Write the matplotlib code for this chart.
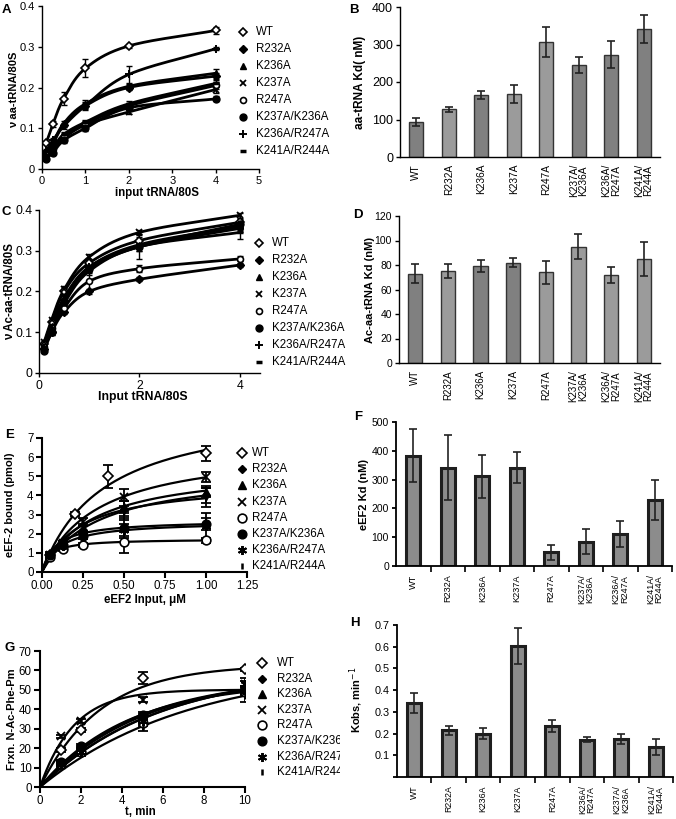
import numpy as np
import matplotlib.pyplot as plt
from matplotlib.lines import Line2D
from matplotlib.ticker import FuncFormatter
from matplotlib.transforms import Bbox

plt.rcParams['font.family'] = ['Liberation Sans', 'DejaVu Sans']

W, H = 676, 819

mutants = ["WT", "R232A", "K236A", "K237A", "R247A",
           "K237A/K236A", "K236A/R247A", "K241A/R244A"]

# ---- panel A : aa-tRNA binding (rows follow `mutants`)
a_x = [0.1, 0.25, 0.5, 1, 2, 4]
a_y = [
    [0.065, 0.11, 0.173, 0.247, 0.302, 0.34],
    [0.04, 0.062, 0.108, 0.155, 0.2, 0.228],
    [0.042, 0.064, 0.112, 0.16, 0.203, 0.235],
    [0.03, 0.045, 0.075, 0.108, 0.14, 0.195],
    [0.035, 0.05, 0.08, 0.11, 0.155, 0.205],
    [0.025, 0.04, 0.07, 0.1, 0.15, 0.172],
    [0.045, 0.07, 0.105, 0.155, 0.232, 0.295],
    [0.035, 0.052, 0.085, 0.115, 0.16, 0.21],
]
a_err = [
    [0.004, 0.008, 0.015, 0.022, 0.005, 0.008],
    [0.003, 0.004, 0.006, 0.008, 0.006, 0.008],
    [0.003, 0.004, 0.006, 0.01, 0.006, 0.01],
    [0.003, 0.004, 0.005, 0.006, 0.006, 0.008],
    [0.003, 0.004, 0.005, 0.006, 0.006, 0.008],
    [0.003, 0.004, 0.005, 0.006, 0.006, 0.006],
    [0.003, 0.005, 0.006, 0.01, 0.02, 0.004],
    [0.003, 0.004, 0.005, 0.006, 0.006, 0.008],
]

# ---- panel B : aa-tRNA Kd (nM)
b_vals = [93, 127, 165, 168, 308, 246, 273, 342]
b_err = [10, 6, 10, 24, 40, 22, 36, 38]

# ---- panel C : Ac-aa-tRNA binding
c_x = [0.1, 0.25, 0.5, 1, 2, 4]
c_y = [
    [0.07, 0.125, 0.2, 0.27, 0.325, 0.37],
    [0.06, 0.1, 0.15, 0.2, 0.23, 0.265],
    [0.065, 0.115, 0.185, 0.26, 0.315, 0.36],
    [0.075, 0.13, 0.205, 0.285, 0.345, 0.387],
    [0.065, 0.11, 0.16, 0.225, 0.256, 0.28],
    [0.055, 0.1, 0.175, 0.255, 0.31, 0.365],
    [0.06, 0.11, 0.18, 0.26, 0.31, 0.355],
    [0.065, 0.1, 0.17, 0.25, 0.31, 0.345],
]
c_err = [
    [0.004, 0.006, 0.008, 0.01, 0.008, 0.008],
    [0.004, 0.005, 0.006, 0.006, 0.005, 0.006],
    [0.004, 0.006, 0.01, 0.01, 0.01, 0.01],
    [0.004, 0.006, 0.008, 0.008, 0.006, 0.006],
    [0.004, 0.006, 0.01, 0.025, 0.008, 0.006],
    [0.004, 0.006, 0.008, 0.01, 0.01, 0.01],
    [0.004, 0.006, 0.008, 0.01, 0.03, 0.01],
    [0.004, 0.006, 0.008, 0.01, 0.01, 0.015],
]

# ---- panel D : Ac-aa-tRNA Kd (nM)
d_vals = [73, 75, 79, 82, 74, 95, 72, 85]
d_err = [8, 6, 5, 4, 9.5, 10, 6.5, 14]

# ---- panel E : eEF2 binding, points + hyperbolic fit (Bmax, Kd in uM)
e_x = [0.05, 0.125, 0.25, 0.5, 1.0]
e_wt_x = [0.05, 0.2, 0.4, 1.0]
e_y = [
    [0.9, 3.05, 5.0, 6.2],
    [0.85, 1.4, 2.2, 3.3, 4.0],
    [0.9, 1.5, 2.3, 3.4, 4.2],
    [0.9, 1.5, 2.6, 3.9, 4.95],
    [0.8, 1.2, 1.4, 1.55, 1.65],
    [0.9, 1.4, 1.9, 2.3, 2.5],
    [0.95, 1.35, 1.9, 2.2, 2.4],
    [0.85, 1.4, 2.2, 3.2, 3.9],
]
e_err = [
    [0.1, 0.1, 0.6, 0.4],
    [0.1, 0.1, 0.2, 0.4, 0.4],
    [0.1, 0.1, 0.2, 0.3, 0.3],
    [0.1, 0.1, 0.2, 0.45, 0.25],
    [0.1, 0.1, 0.1, 0.55, 0.15],
    [0.1, 0.1, 0.15, 0.5, 0.3],
    [0.1, 0.1, 0.15, 0.3, 0.7],
    [0.1, 0.1, 0.2, 0.5, 0.5],
]
e_bmax = [8.8, 5.36, 5.57, 6.63, 1.73, 2.71, 2.66, 4.74]
e_kd = [0.38, 0.34, 0.31, 0.34, 0.05, 0.085, 0.11, 0.23]

# ---- panel F : eEF2 Kd (nM)
f_vals = [383, 342, 312, 342, 48, 85, 110, 230]
f_err = [93, 112, 75, 55, 26, 42, 45, 70]

# ---- panel G : peptidyl transfer time course, points + single exp fit
g_x = [1, 2, 5, 10]
g_y = [
    [19, 29.5, 56, 60.5],
    [13, 20, 36, 50],
    [12, 19, 35, 50],
    [26, 34, 45, 53],
    [12, 18, 33, 49],
    [13, 21, 37, 50],
    [12, 18, 34, 53],
    [11, 17, 31, 47],
]
g_err = [
    [1, 1, 3, 1],
    [1, 1, 1.5, 2],
    [1, 1, 1.5, 2],
    [1, 1, 1.5, 1.5],
    [1, 1, 1.5, 2],
    [1, 1, 1.5, 2],
    [1, 1, 1.5, 3],
    [1, 1, 2, 3],
]
g_amp = [63, 56.6, 57.8, 50.1, 54.1, 60.5, 60.9, 62.8]
g_k = [0.34, 0.215, 0.2, 0.605, 0.235, 0.175, 0.172, 0.138]

# ---- panel H : kobs (min-1), its own bar order
h_labels = ["WT", "R232A", "K236A", "K237A", "R247A",
            "K236A/R247A", "K237A/K236A", "K241A/R244A"]
h_vals = [0.34, 0.215, 0.2, 0.605, 0.235, 0.172, 0.175, 0.138]
h_err = [0.045, 0.02, 0.027, 0.083, 0.027, 0.013, 0.025, 0.035]


# =========================================================
# helpers
# =========================================================

DARK, LIGHT = "#808080", "#9b9b9b"

small_style = [
    dict(marker="D", ms=3.8, mfc="white", mec="black", mew=1.2),
    dict(marker="D", ms=3.6, mfc="black", mec="black"),
    dict(marker="^", ms=4.5, mfc="black", mec="black"),
    dict(marker="x", ms=4.2, mec="black", mew=1.3),
    dict(marker="o", ms=4.3, mfc="white", mec="black", mew=1.2),
    dict(marker="o", ms=5, mfc="black", mec="black"),
    dict(marker="+", ms=5.5, mec="black", mew=1.4),
    dict(marker="_", ms=4, mec="black", mew=2.5),
]
big_style = [
    dict(marker="D", ms=5, mfc="white", mec="black", mew=1.2),
    dict(marker="D", ms=4.5, mfc="black", mec="black"),
    dict(marker="^", ms=6, mfc="black", mec="black"),
    dict(marker="x", ms=6, mec="black", mew=1.3),
    dict(marker="o", ms=6.3, mfc="white", mec="black", mew=1.2),
    dict(marker="o", ms=6.3, mfc="black", mec="black"),
    dict(marker=(6, 2, 0), ms=6.5, mec="black", mew=1.4),
    dict(marker="|", ms=5, mec="black", mew=1.8),
]


def make_ax(x0, y0, x1, y1, fs, lw=1.0):
    ax = fig.add_axes([x0 / W, 1 - y1 / H, (x1 - x0) / W, (y1 - y0) / H])
    ax.spines["top"].set_visible(False)
    ax.spines["right"].set_visible(False)
    for s in ("left", "bottom"):
        ax.spines[s].set_linewidth(lw)
    ax.tick_params(direction="out", length=3, width=lw, labelsize=fs, pad=2)
    return ax


def ftext(px, py, s, **kw):
    kw.setdefault("fontsize", 8.5)
    return fig.text(px / W, 1 - py / H, s, **kw)


def ylab(px, py, s, fs=8.3):
    ftext(px, py, s, rotation=90, ha="center", va="center",
          fontweight="bold", fontsize=fs)


def xlab(px, py, s, fs=8.5):
    ftext(px, py, s, ha="center", va="center", fontweight="bold", fontsize=fs)


def legend(styles, mx, my0, dy, tx, clip_x=None):
    for i, name in enumerate(mutants):
        y = 1 - (my0 + i * dy) / H
        fig.add_artist(Line2D([mx / W], [y], transform=fig.transFigure,
                              linestyle="none", **styles[i]))
        t = fig.text(tx / W, y, name, va="center", ha="left", fontsize=8.3)
        if clip_x is not None:
            t.set_clip_box(Bbox.from_extents(0, 0, clip_x, H))
            t.set_clip_on(True)


def smooth(xs, ys, n=30):
    # Catmull-Rom style smooth line through the points (like spreadsheet curves)
    xs = np.asarray(xs, float)
    ys = np.asarray(ys, float)
    px = np.concatenate([[2 * xs[0] - xs[1]], xs, [2 * xs[-1] - xs[-2]]])
    py = np.concatenate([[2 * ys[0] - ys[1]], ys, [2 * ys[-1] - ys[-2]]])
    t = np.linspace(0, 1, n)
    ox, oy = [], []
    for i in range(1, len(px) - 2):
        for p, out in ((px, ox), (py, oy)):
            p0, p1, p2, p3 = p[i - 1], p[i], p[i + 1], p[i + 2]
            out.extend(0.5 * (2 * p1 + (-p0 + p2) * t
                              + (2 * p0 - 5 * p1 + 4 * p2 - p3) * t ** 2
                              + (-p0 + 3 * p1 - 3 * p2 + p3) * t ** 3))
    return ox, oy


def bar_panel(ax, labels, vals, errs, colors, width, edge_lw, label_fs, prism=False):
    pos = np.arange(len(vals))
    ax.bar(pos, vals, width=width, color=colors,
           edgecolor="#1e1e1e" if prism else "#333333", linewidth=edge_lw, zorder=2)
    ax.errorbar(pos, vals, yerr=errs, fmt="none", ecolor="#222222",
                elinewidth=1.2, capsize=3, capthick=1.2, zorder=3)
    ax.set_xlim(-0.5, len(vals) - 0.5)
    ax.set_xticks(pos)
    ax.set_xticklabels([l.replace("/", "/\n") for l in labels],
                       rotation=90, fontsize=label_fs, linespacing=0.95)
    if prism:
        ax.set_xticks(list(pos[:-1] + 0.5) + [len(vals) - 0.5], minor=True)
        ax.tick_params(axis="x", which="major", length=0, pad=6)
        ax.tick_params(axis="x", which="minor", length=4, width=1.2)
    else:
        ax.tick_params(axis="x", length=0, pad=5)


num_fmt = FuncFormatter(lambda v, p: f"{v:g}")

fig = plt.figure(figsize=(W / 100, H / 100), dpi=100)

# =========================================================
# A
# =========================================================
ax = make_ax(42, 6, 259, 169, 8)
for i in range(len(mutants)):
    sx, sy = smooth(a_x, a_y[i])
    ax.plot(sx, sy, color="black", lw=2.0, zorder=2, clip_on=False)
    ax.errorbar(a_x, a_y[i], yerr=a_err[i], fmt="none", ecolor="black",
                elinewidth=1.0, capsize=2.5, zorder=3)
    ax.plot(a_x, a_y[i], linestyle="none", zorder=4, **small_style[i])
ax.set_xlim(0, 5)
ax.set_ylim(0, 0.4)
ax.set_xticks(range(6))
ax.set_yticks([0, 0.1, 0.2, 0.3, 0.4])
ax.yaxis.set_major_formatter(num_fmt)
legend(small_style, 243, 32, 17, 256)
ylab(14, 90, "ν aa-tRNA/80S", 8)
xlab(157, 193, "input tRNA/80S", 8.3)
ftext(6, 10, "A", fontweight="bold", fontsize=9.5, ha="center", va="center")

# =========================================================
# B
# =========================================================
ax = make_ax(400, 7, 660, 157, 9)
bar_panel(ax, mutants, b_vals, b_err,
          [DARK, LIGHT, DARK, LIGHT, LIGHT, DARK, DARK, DARK], 0.44, 1.0, 7.3)
ax.set_ylim(0, 400)
ax.set_yticks(range(0, 401, 100))
ylab(360, 82, "aa-tRNA Kd( nM)", 8.5)
ftext(354, 10, "B", fontweight="bold", fontsize=9.5, ha="center", va="center")

# =========================================================
# C
# =========================================================
ax = make_ax(39, 210, 260, 373, 8.8)
for i in range(len(mutants)):
    sx, sy = smooth(c_x, c_y[i])
    ax.plot(sx, sy, color="black", lw=2.0, zorder=2, clip_on=False)
    ax.errorbar(c_x, c_y[i], yerr=c_err[i], fmt="none", ecolor="black",
                elinewidth=1.0, capsize=2.5, zorder=3)
    ax.plot(c_x, c_y[i], linestyle="none", zorder=4, **small_style[i])
ax.set_xlim(0, 4.4)
ax.set_ylim(0, 0.4)
ax.set_xticks([0, 2, 4])
ax.set_yticks([0, 0.1, 0.2, 0.3, 0.4])
ax.yaxis.set_major_formatter(num_fmt)
legend(small_style, 259, 243, 17, 272)
ylab(10, 292, "ν Ac-aa-tRNA/80S", 8.3)
xlab(143, 397, "Input tRNA/80S", 8.8)
ftext(6, 212, "C", fontweight="bold", fontsize=9.5, ha="center", va="center")

# =========================================================
# D
# =========================================================
ax = make_ax(399, 216, 660, 363, 7.5)
bar_panel(ax, mutants, d_vals, d_err,
          [DARK, LIGHT, DARK, DARK, LIGHT, LIGHT, LIGHT, LIGHT], 0.44, 1.0, 7)
ax.set_ylim(0, 120)
ax.set_yticks(range(0, 121, 20))
ylab(370, 290, "Ac-aa-tRNA Kd (nM)", 8)
ftext(358, 215, "D", fontweight="bold", fontsize=9.5, ha="center", va="center")

# =========================================================
# E
# =========================================================
ax = make_ax(42, 438, 247, 572, 8.3, lw=1.5)
ax.tick_params(length=4, width=1.5)
xf = np.linspace(0, 1.0, 200)
for i in range(len(mutants)):
    xs = e_wt_x if i == 0 else e_x
    ax.plot(xf, e_bmax[i] * xf / (e_kd[i] + xf), color="black", lw=1.6, zorder=2)
    ax.errorbar(xs, e_y[i], yerr=e_err[i], fmt="none", ecolor="black",
                elinewidth=1.3, capsize=3.5, capthick=1.3, zorder=3)
    ax.plot(xs, e_y[i], linestyle="none", zorder=4, **big_style[i])
ax.set_xlim(0, 1.25)
ax.set_ylim(0, 7)
ax.set_xticks([0, 0.25, 0.5, 0.75, 1.0, 1.25])
ax.xaxis.set_major_formatter(FuncFormatter(lambda v, p: f"{v:.2f}"))
ax.set_yticks(range(8))
legend(big_style, 242, 453, 16.2, 252)
ylab(10, 505, "eEF-2 bound (pmol)", 8)
xlab(145, 600, "eEF2 Input, μM", 8.3)
ftext(10, 435, "E", fontweight="bold", fontsize=9.5, ha="center", va="center")

# =========================================================
# F
# =========================================================
ax = make_ax(396, 422, 672, 566, 7.5, lw=1.3)
bar_panel(ax, mutants, f_vals, f_err, ["#8c8c8c"] * 8, 0.42, 2.2, 6.6, prism=True)
ax.set_ylim(0, 500)
ax.set_yticks(range(0, 501, 100))
ylab(364, 494, "eEF2 Kd (nM)", 8)
ftext(358, 417, "F", fontweight="bold", fontsize=9.5, ha="center", va="center")

# =========================================================
# G
# =========================================================
ax = make_ax(40, 651, 245, 787, 8.3, lw=1.5)
ax.tick_params(length=4, width=1.5)
tf = np.linspace(0, 10, 200)
for i in range(len(mutants)):
    ax.plot(tf, g_amp[i] * (1 - np.exp(-g_k[i] * tf)), color="black", lw=1.6, zorder=2)
    ax.errorbar(g_x, g_y[i], yerr=g_err[i], fmt="none", ecolor="black",
                elinewidth=1.3, capsize=3.5, capthick=1.3, zorder=3)
    ax.plot(g_x, g_y[i], linestyle="none", zorder=4, **big_style[i])
ax.set_xlim(0, 10)
ax.set_ylim(0, 70)
ax.set_xticks(range(0, 11, 2))
ax.set_yticks(range(0, 71, 10))
legend(big_style, 262, 663, 15.6, 277, clip_x=340)
ylab(12, 719, "Frxn. N-Ac-Phe-Pm", 8)
xlab(140, 812, "t, min", 8.3)
ftext(10, 648, "G", fontweight="bold", fontsize=9.5, ha="center", va="center")

# =========================================================
# H
# =========================================================
ax = make_ax(397, 625, 673, 777, 7.8, lw=1.3)
bar_panel(ax, h_labels, h_vals, h_err, ["#8c8c8c"] * 8, 0.42, 2.2, 6.3, prism=True)
ax.set_ylim(0, 0.7)
ax.set_yticks([0, 0.1, 0.2, 0.3, 0.4, 0.5, 0.6, 0.7])
ax.set_yticklabels([""] + [f"{v:g}" for v in [0.1, 0.2, 0.3, 0.4, 0.5, 0.6, 0.7]])
ylab(356, 700, "Kobs, min$^{-1}$", 8)
ftext(355, 623, "H", fontweight="bold", fontsize=9.5, ha="center", va="center")

fig.savefig("out.png", dpi=100)
